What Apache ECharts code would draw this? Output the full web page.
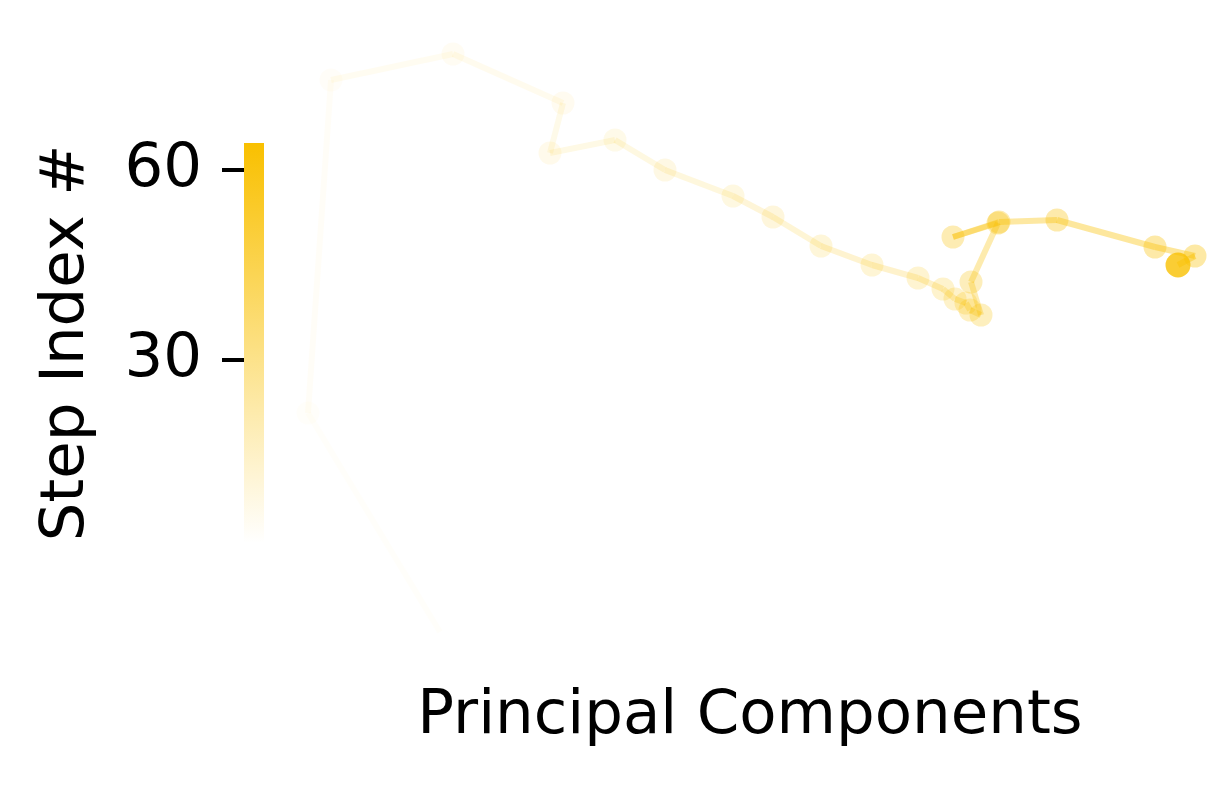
<!DOCTYPE HTML>
<html style="height: 100%">
<head>
    <meta charset="utf-8">
    <title>Step trajectory</title>
    <style>
        html, body { margin: 0; background: #fff; }
    </style>
</head>
<body style="height: 100%; margin: 0">
    <div id="container" style="width: 1221px; height: 790px"></div>
    <script src="https://cdn.jsdelivr.net/npm/echarts@6/dist/echarts.min.js"></script>
    <script>
        // trajectory in principal-component space (arbitrary units)
        var pc1 = [1.50, 0.18, 0.41, 1.63, 2.73, 2.60, 3.25, 3.75, 4.43, 4.83, 5.31, 5.82, 6.28,
                   6.53, 6.65, 6.76, 6.80, 6.91, 6.81, 7.08, 6.63, 7.09, 7.67, 8.65, 9.05, 8.88];
        var pc2 = [0.28, 2.47, 5.80, 6.06, 5.57, 5.07, 5.20, 4.90, 4.64, 4.43, 4.14, 3.95, 3.82,
                   3.71, 3.61, 3.57, 3.50, 3.45, 3.78, 4.37, 4.23, 4.38, 4.40, 4.13, 4.04, 3.95];
        var steps = [1, 4, 6, 9, 11, 14, 16, 19, 21, 24, 26, 29, 31,
                     34, 36, 39, 41, 44, 46, 49, 51, 54, 56, 59, 61, 64];
        var barTicks = [30, 60];
        var stepMin = 1, stepMax = 64.3;

        var gold = [249, 192, 0];
        function stepColor(s, k) {
            var a = (s - stepMin) / (stepMax - stepMin);
            a = Math.max(0, Math.min(1, a)) * k;
            return 'rgba(' + gold[0] + ',' + gold[1] + ',' + gold[2] + ',' + a.toFixed(3) + ')';
        }

        var pts = [];
        var segs = [];
        for (var i = 0; i < pc1.length; i++) {
            pts.push([pc1[i], pc2[i], steps[i]]);
            if (i > 0) {
                segs.push({
                    coords: [[pc1[i - 1], pc2[i - 1]], [pc1[i], pc2[i]]],
                    lineStyle: { color: stepColor(steps[i], 0.42) }
                });
            }
        }
        var last = pts[pts.length - 1];

        var font = 'DejaVu Sans';
        var dom = document.getElementById("container");
        var myChart = echarts.init(dom, null, { renderer: 'canvas' });
        var option = {
            animation: false,
            backgroundColor: '#fff',
            grid: [
                { left: 290, right: 11, top: 30, bottom: 130 },
                { left: 244, width: 20, top: 143, height: 400 }
            ],
            xAxis: [{
                gridIndex: 0, type: 'value', min: 0, max: 9.2,
                axisLine: { show: false }, axisTick: { show: false },
                axisLabel: { show: false }, splitLine: { show: false },
                name: 'Principal Components', nameLocation: 'middle', nameGap: 27,
                nameTextStyle: { fontFamily: font, fontSize: 61, color: '#000' }
            }, {
                gridIndex: 1, type: 'value', min: 0, max: 1, show: false
            }],
            yAxis: [{
                gridIndex: 0, type: 'value', min: 0, max: 6.3,
                axisLine: { show: false }, axisTick: { show: false },
                axisLabel: { show: false }, splitLine: { show: false }
            }, {
                gridIndex: 1, type: 'value', min: stepMin, max: stepMax, position: 'left',
                axisLine: { show: false },
                splitLine: { show: false },
                axisTick: { show: true, length: 22, customValues: barTicks,
                    lineStyle: { color: '#000', width: 4 } },
                axisLabel: { show: true, customValues: barTicks, margin: 42,
                    fontFamily: font, fontSize: 61, color: '#000' },
                name: 'Step Index #', nameLocation: 'middle', nameRotate: 90, nameGap: 146,
                nameTextStyle: { fontFamily: font, fontSize: 61, color: '#000' }
            }],
            series: [{
                // colorbar
                type: 'custom',
                xAxisIndex: 1, yAxisIndex: 1,
                data: [[0, stepMin, stepMax]],
                renderItem: function (params, api) {
                    var p0 = api.coord([0, api.value(2)]);
                    var p1 = api.coord([1, api.value(1)]);
                    return {
                        type: 'rect',
                        shape: { x: p0[0], y: p0[1], width: p1[0] - p0[0], height: p1[1] - p0[1] },
                        style: {
                            fill: new echarts.graphic.LinearGradient(0, 0, 0, 1, [
                                { offset: 0, color: 'rgba(249,192,0,1)' },
                                { offset: 1, color: 'rgba(249,192,0,0)' }
                            ])
                        }
                    };
                }
            }, {
                type: 'lines',
                coordinateSystem: 'cartesian2d',
                xAxisIndex: 0, yAxisIndex: 0,
                polyline: false,
                lineStyle: { width: 6, opacity: 1, cap: 'butt' },
                data: segs,
                z: 2
            }, {
                type: 'scatter',
                xAxisIndex: 0, yAxisIndex: 0,
                symbolSize: 23,
                data: pts.slice(0, pts.length - 1),
                itemStyle: {
                    color: function (p) { return stepColor(p.value[2], 0.47); }
                },
                z: 3
            }, {
                type: 'scatter',
                xAxisIndex: 0, yAxisIndex: 0,
                symbolSize: 25,
                data: [last],
                itemStyle: { color: stepColor(last[2], 1) },
                z: 4
            }]
        };
        myChart.setOption(option);
    </script>
</body>
</html>
